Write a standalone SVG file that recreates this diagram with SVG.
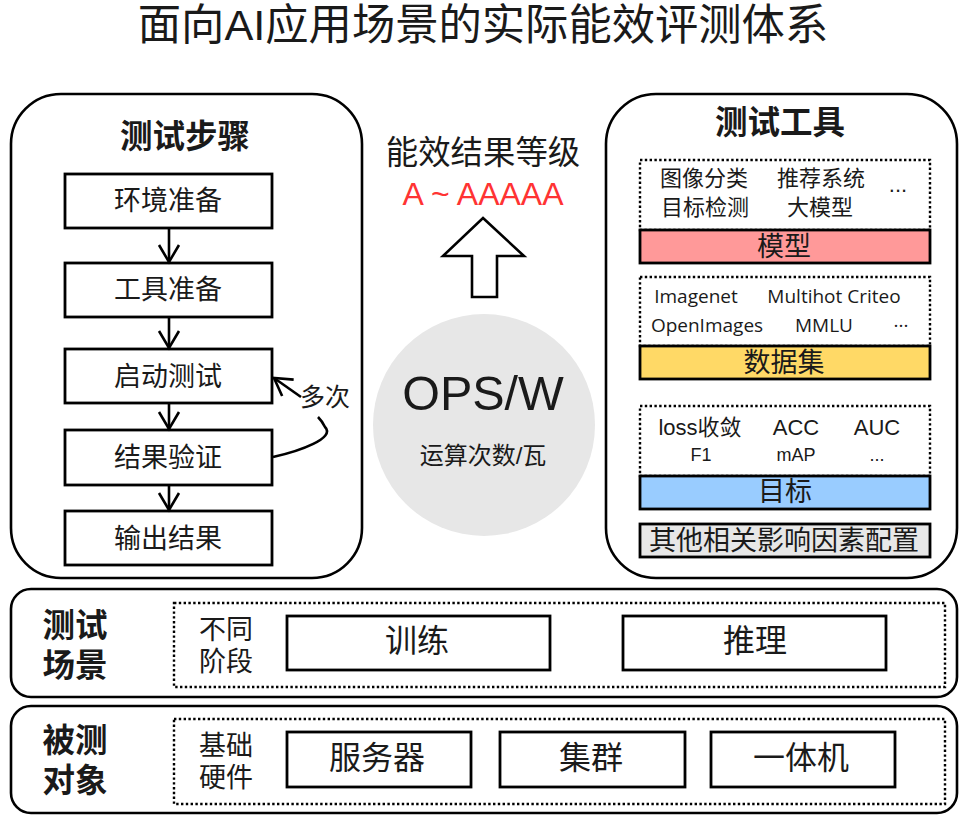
<svg xmlns="http://www.w3.org/2000/svg" width="969" height="819" viewBox="0 0 969 819">
<defs>
<marker id="arr" markerUnits="userSpaceOnUse" markerWidth="24" markerHeight="24" refX="20" refY="12" orient="auto"><path d="M3 2 L20 12 L3 22" fill="none" stroke="#000" stroke-width="2.6"/></marker>
</defs>
<style>
text{font-family:"Liberation Sans","Noto Sans CJK SC",sans-serif;fill:#1a1a1a;text-anchor:middle}
.panel{fill:#fff;stroke:#000;stroke-width:2.6}
.box{fill:#fff;stroke:#000;stroke-width:2.8}
.dot{fill:#fff;stroke:#000;stroke-width:2.4;stroke-dasharray:2.4 2.4}
.bar{stroke:#000;stroke-width:2.8}
.h{font-size:32.5px;font-weight:700}
.s{font-size:27px}
.m{font-size:32px}
.t{font-size:22px}
.o{font-family:"Open Sans","Noto Sans",sans-serif;font-size:19px}
.n{font-size:27px}
.c{fill:none;stroke:#000;stroke-width:2.6}
</style>
<rect width="969" height="819" fill="#fff"/>
<text id="title" x="483" y="40" font-size="43.3">面向AI应用场景的实际能效评测体系</text>

<g id="steps-panel"><rect class="panel" x="11" y="94" width="351" height="484" rx="50"/><text class="h" x="185" y="148">测试步骤</text></g>
<g id="step-env"><rect class="box" x="65" y="174" width="207" height="54"/><text class="s" x="168" y="210">环境准备</text></g>
<g id="step-tool"><rect class="box" x="65" y="263" width="207" height="54"/><text class="s" x="168" y="299">工具准备</text></g>
<g id="step-start"><rect class="box" x="65" y="349" width="207" height="54"/><text class="s" x="168" y="386">启动测试</text></g>
<g id="step-verify"><rect class="box" x="65" y="430" width="207" height="55"/><text class="s" x="168" y="467">结果验证</text></g>
<g id="step-output"><rect class="box" x="65" y="511" width="207" height="54"/><text class="s" x="168" y="548">输出结果</text></g>
<g id="loop-label"><text x="325" y="406" font-size="25">多次</text></g>

<g id="connectors">
<path class="c" marker-end="url(#arr)" d="M169 229 V262"/>
<path class="c" marker-end="url(#arr)" d="M169 318 V348"/>
<path class="c" marker-end="url(#arr)" d="M169 404 V429"/>
<path class="c" marker-end="url(#arr)" d="M169 486 V510"/>
<path class="c" marker-end="url(#arr)" d="M301 397 L274 378"/>
<path class="c" d="M273 457 C300 451 336 438 325 427 C323 423 321 420 318 417"/>
</g>

<g id="grade"><text x="483" y="164" font-size="32.4">能效结果等级</text><text x="483" y="205" font-size="32" style="fill:#ff3333">A ~ AAAAA</text></g>
<g id="up-arrow"><path d="M483 218 L524 256 H497 V297 H472 V256 H443 Z" fill="#fff" stroke="#000" stroke-width="2.6"/></g>
<g id="ops"><circle cx="484" cy="425" r="111" fill="#e7e7e7"/><text x="483" y="410" font-size="48.5">OPS/W</text><text x="483" y="464" font-size="24">运算次数/瓦</text></g>

<g id="tools-panel"><rect class="panel" x="606" y="94" width="351" height="484" rx="50"/><text class="h" x="780" y="134">测试工具</text></g>
<g id="model"><rect class="dot" x="640" y="160" width="290" height="70"/>
<text class="t" x="704" y="186">图像分类</text><text class="t" x="821" y="186">推荐系统</text><text class="t" x="898" y="192">...</text><text class="t" x="705" y="215">目标检测</text><text class="t" x="820" y="215">大模型</text>
<rect class="bar" x="640" y="230" width="290" height="33" fill="#ff9999"/><text class="n" x="784" y="256">模型</text></g>
<g id="dataset"><rect class="dot" x="640" y="277" width="290" height="69"/>
<text class="o" x="696" y="303">Imagenet</text><text class="o" x="834" y="303">Multihot Criteo</text><text class="o" x="707" y="332">OpenImages</text><text class="o" x="824" y="332">MMLU</text><text class="o" x="901" y="327">...</text>
<rect class="bar" x="640" y="346" width="290" height="33" fill="#ffd966"/><text class="n" x="784" y="372">数据集</text></g>
<g id="target"><rect class="dot" x="640" y="406" width="290" height="70"/>
<text class="t" x="700" y="435">loss收敛</text><text class="t" x="796" y="435">ACC</text><text class="t" x="877" y="435">AUC</text><text x="701" y="461" font-size="18">F1</text><text x="796" y="461" font-size="18">mAP</text><text x="877" y="461" font-size="18">...</text>
<rect class="bar" x="640" y="476" width="290" height="33" fill="#99ccff"/><text class="n" x="785" y="501">目标</text></g>
<g id="other"><rect class="bar" x="640" y="524" width="290" height="33" fill="#e7e7e7"/><text class="n" x="784" y="550">其他相关影响因素配置</text></g>

<g id="scene-panel"><rect class="panel" x="11" y="589" width="946" height="108" rx="20"/><text class="h" x="75" y="637">测试</text><text class="h" x="75" y="677">场景</text>
<rect class="dot" x="174" y="603" width="771" height="84"/><text class="n" x="226" y="639">不同</text><text class="n" x="226" y="671">阶段</text></g>
<g id="train"><rect class="box" x="287" y="616" width="263" height="54"/><text class="m" x="417" y="652">训练</text></g>
<g id="infer"><rect class="box" x="623" y="616" width="263" height="54"/><text class="m" x="755" y="652">推理</text></g>

<g id="object-panel"><rect class="panel" x="11" y="706" width="946" height="107" rx="20"/><text class="h" x="75" y="752">被测</text><text class="h" x="75" y="792">对象</text>
<rect class="dot" x="174" y="719" width="771" height="85"/><text class="n" x="226" y="755">基础</text><text class="n" x="226" y="787">硬件</text></g>
<g id="server"><rect class="box" x="287" y="732" width="184" height="55"/><text class="m" x="377" y="769">服务器</text></g>
<g id="cluster"><rect class="box" x="500" y="732" width="185" height="55"/><text class="m" x="591" y="769">集群</text></g>
<g id="aio"><rect class="box" x="711" y="732" width="184" height="55"/><text class="m" x="801" y="769">一体机</text></g>
</svg>
